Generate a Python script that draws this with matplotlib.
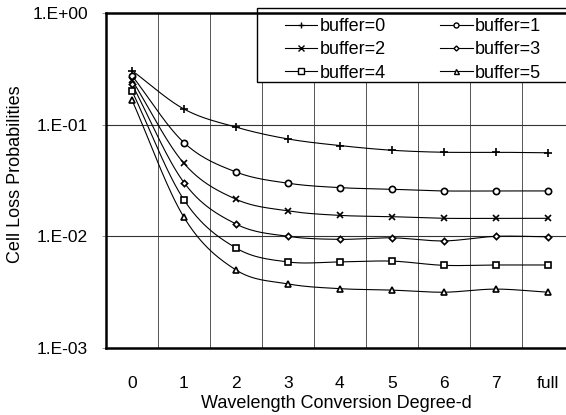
import numpy as np
import matplotlib
matplotlib.use("Agg")
import matplotlib.pyplot as plt
from matplotlib.lines import Line2D
from matplotlib.patches import Rectangle

plt.rcParams['font.family'] = ['Liberation Sans', 'DejaVu Sans']

categories = ["0", "1", "2", "3", "4", "5", "6", "7", "full"]
buffer0 = [0.305, 0.138, 0.095, 0.0745, 0.065, 0.059, 0.0566, 0.0566, 0.056]
buffer1 = [0.275, 0.069, 0.0377, 0.0299, 0.0273, 0.0264, 0.0255, 0.0255, 0.0255]
buffer2 = [0.251, 0.045, 0.0215, 0.0169, 0.0154, 0.0150, 0.0145, 0.0145, 0.0145]
buffer3 = [0.230, 0.0303, 0.0129, 0.0100, 0.0094, 0.0097, 0.0091, 0.0100, 0.0099]
buffer4 = [0.200, 0.0212, 0.00787, 0.0059, 0.0059, 0.0060, 0.00550, 0.00554, 0.00554]
buffer5 = [0.166, 0.0148, 0.0050, 0.00375, 0.0034, 0.0033, 0.00316, 0.00337, 0.00316]
series_labels = ["buffer=0", "buffer=1", "buffer=2", "buffer=3", "buffer=4", "buffer=5"]
series = [buffer0, buffer1, buffer2, buffer3, buffer4, buffer5]
ytick_values = [1e0, 1e-1, 1e-2, 1e-3]
ytick_labels = ["1.E+00", "1.E-01", "1.E-02", "1.E-03"]

markers = ['+', 'o', 'x', 'D', 's', '^']
msizes = [6, 4.5, 5, 3.2, 5, 4.5]


def smooth(xs, ys, n=30):
    # Catmull-Rom spline through the points in (x, log10 y) space
    xs = np.asarray(xs, float)
    ly = np.log10(np.asarray(ys, float))
    P = np.column_stack([xs, ly])
    P = np.vstack([P[0] - (P[1] - P[0]), P, P[-1] + (P[-1] - P[-2])])
    out = []
    t = np.linspace(0, 1, n)[:, None]
    for i in range(1, len(P) - 2):
        p0, p1, p2, p3 = P[i - 1], P[i], P[i + 1], P[i + 2]
        seg = 0.5 * ((2 * p1) + (-p0 + p2) * t + (2 * p0 - 5 * p1 + 4 * p2 - p3) * t ** 2
                     + (-p0 + 3 * p1 - 3 * p2 + p3) * t ** 3)
        out.append(seg if i == 1 else seg[1:])
    S = np.vstack(out)
    return S[:, 0], 10 ** S[:, 1]


fig = plt.figure(figsize=(5.66, 4.15), dpi=100)
ax = fig.add_axes([0.1873, 0.1614, 0.8127, 0.8073])

x = np.arange(len(categories))
for vals, m, ms in zip(series, markers, msizes):
    sx, sy = smooth(x, vals)
    ax.plot(sx, sy, color='black', lw=0.8, zorder=3)
    ax.plot(x, vals, linestyle='none', marker=m, ms=ms, color='black',
            mfc='white' if m in ('o', 's', '^', 'D') else 'black', mec='black',
            mew=1.2, zorder=4)

ax.set_yscale('log')
ax.set_ylim(1e-3, 1e0)
ax.set_xlim(-0.5, 8.35)
ax.set_yticks(ytick_values)
ax.set_yticklabels(ytick_labels)
ax.yaxis.set_minor_locator(matplotlib.ticker.NullLocator())
ax.set_xticks(x)
ax.set_xticklabels(categories)
ax.tick_params(axis='x', length=0, pad=20, labelsize=12.5)
ax.tick_params(axis='y', length=3, width=0.6, color='#888888', pad=10, labelsize=12.5)

for b in np.arange(0.5, 8, 1.0):
    ax.axvline(b, color='#555555', lw=0.7, zorder=1)
for yv in [1e-1, 1e-2]:
    ax.axhline(yv, color='#333333', lw=0.8, zorder=1)

for s in ['left', 'bottom', 'top']:
    ax.spines[s].set_linewidth(1.8)
    ax.spines[s].set_color('black')
ax.spines['right'].set_visible(False)

ax.set_xlabel("Wavelength Conversion Degree-d", fontsize=13, labelpad=3)
ax.set_ylabel("Cell Loss Probabilities", fontsize=13)
ax.yaxis.set_label_coords(-0.178, 0.52)

# legend frame box (extends past the right edge like the reference)
rect = Rectangle((257 / 566, 1 - 82 / 415), 0.6, 74 / 415, transform=fig.transFigure,
                 facecolor='white', edgecolor='black', lw=1.0, clip_on=False, zorder=2)
ax.add_patch(rect)

handles = [Line2D([0], [0], color='black', lw=0.8, marker=m, ms=ms * 0.8,
                  mfc='white' if m in ('o', 's', '^', 'D') else 'black', mec='black', mew=1.0)
           for m, ms in zip(markers, msizes)]
order = [0, 2, 4, 1, 3, 5]
leg = ax.legend([handles[i] for i in order], [series_labels[i] for i in order],
                ncol=2, loc='upper left',
                bbox_to_anchor=(0.389, 0.985), fontsize=13, frameon=False,
                handlelength=1.8, handletextpad=0.12, columnspacing=3.0,
                labelspacing=0.35, borderpad=0.0, borderaxespad=0)
leg.set_zorder(5)

fig.savefig("out.png", dpi=100)
